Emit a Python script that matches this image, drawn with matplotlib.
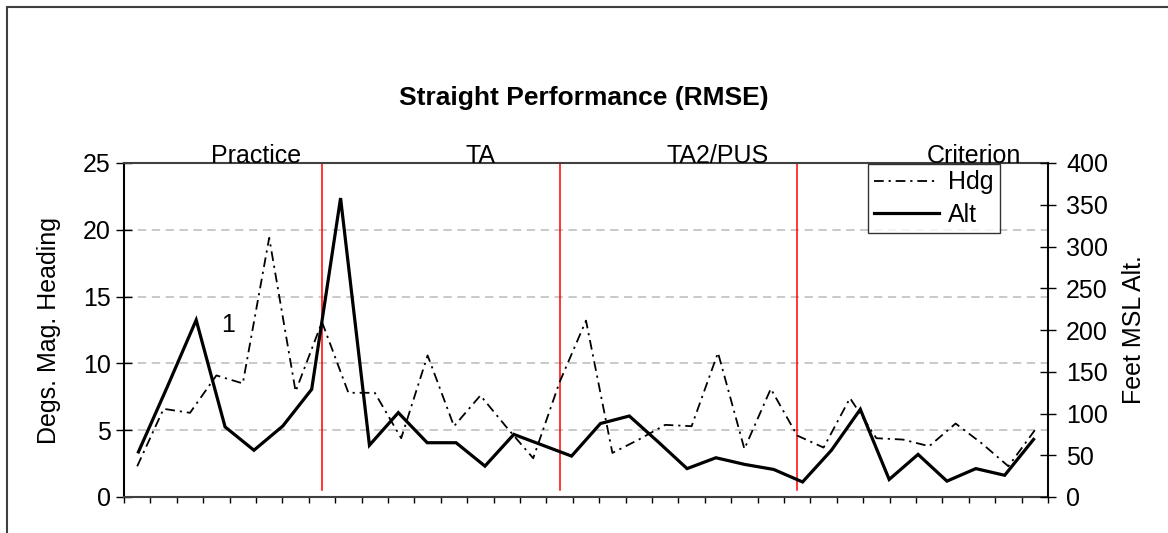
import matplotlib
matplotlib.use("Agg")
import matplotlib.pyplot as plt
from matplotlib.patches import Rectangle
import numpy as np

plt.rcParams['font.family'] = ['Liberation Sans', 'DejaVu Sans']
plt.rcParams['lines.scale_dashes'] = False

title = "Straight Performance (RMSE)"
phases = ["Practice", "TA", "TA2/PUS", "Criterion"]
phase_label_x = [5.0, 13.5, 22.5, 32.2]          # in Hdg category units
phase_bounds = [7.5, 16.5, 25.5]                 # in Hdg category units

hdg = [2.3, 6.6, 6.3, 9.1, 8.5, 19.4, 7.9, 13.1, 7.8, 7.8, 4.4, 10.6, 5.3, 7.6,
       5.2, 2.9, 8.6, 13.2, 3.3, 4.3, 5.4, 5.3, 10.8, 3.6, 8.1, 4.6, 3.7, 7.4,
       4.4, 4.3, 3.8, 5.5, 4.0, 2.3, 5.0]
alt = [54, 132, 212, 84, 56, 85, 129, 358, 62, 101, 65, 65, 37, 75, 62, 49,
       88, 97, 66, 34, 47, 39, 33, 18, 56, 105, 21, 51, 19, 34, 26, 69]

left_ticks = [0, 5, 10, 15, 20, 25]
right_ticks = [0, 50, 100, 150, 200, 250, 300, 350, 400]

W, H = 1168, 533
fig = plt.figure(figsize=(W / 100, H / 100), dpi=100)
pos = [124 / W, 1 - 497 / H, (1048 - 124) / W, (497 - 163) / H]
ax = fig.add_axes(pos)
ax2 = fig.add_axes(pos, facecolor='none')

FS = 18

# Hdg on primary axes
nh = len(hdg)
xh = np.arange(nh) + 0.5
ax.set_xlim(0, nh)
ax.set_ylim(0, 25)
ax.set_yticks(left_ticks)
ax.set_xticks(np.arange(nh + 1))
ax.set_xticklabels([])
for g in [5, 10, 15, 20]:
    ax.axhline(g, color='#c0c0c0', lw=1.2, dashes=(6, 4), zorder=0)
for b in phase_bounds:
    ax.axvline(b, ymin=0.02, ymax=1, color='red', lw=1.1, zorder=1)
lh, = ax.plot(xh, hdg, color='black', lw=1.3, dashes=(7.0, 3.5, 1.6, 3.5), zorder=2, label='Hdg')
ax.tick_params(axis='y', direction='inout', length=11, width=1, labelsize=FS, pad=4)
ax.tick_params(axis='x', direction='out', length=4.5, width=1)
for s in ax.spines.values():
    s.set_color('#404040')
    s.set_linewidth(1.5)
ax.spines['left'].set_color('black')
ax.set_ylabel("Degs. Mag. Heading", fontsize=FS)
ax.yaxis.set_label_coords(-0.068, 0.5)

# Alt on secondary axes
na = len(alt)
xa = np.arange(na) + 0.5
ax2.set_xlim(0, na)
ax2.set_ylim(0, 400)
ax2.set_yticks(right_ticks)
ax2.xaxis.set_visible(False)
ax2.yaxis.tick_right()
ax2.yaxis.set_label_position('right')
for s in ax2.spines.values():
    s.set_visible(False)
ax2.spines['right'].set_visible(True)
ax2.spines['right'].set_color('black')
ax2.spines['right'].set_linewidth(1.3)
la, = ax2.plot(xa, alt, color='black', lw=2.3, solid_joinstyle='miter', zorder=3, label='Alt')
ax2.tick_params(axis='y', direction='inout', length=12, width=1, labelsize=FS, pad=7)
ax2.set_ylabel("Feet MSL Alt.", fontsize=FS, rotation=90)
ax2.yaxis.set_label_coords(1.080, 0.5)

# Phase labels
for lbl, px in zip(phases, phase_label_x):
    ax.text(px, (497 - 156) / (497 - 163), lbl, transform=ax.get_xaxis_transform(),
            ha='center', va='center', fontsize=FS)
ax.text(3.94, 12.9, "1", ha='center', va='center', fontsize=FS)

fig.text(0.5, 1 - 98 / H, title, ha='center', va='center', fontsize=19, fontweight='bold')

leg = ax2.legend(handles=[lh, la], loc='upper left',
                 bbox_to_anchor=(868 / W, 1 - 164 / H), bbox_transform=fig.transFigure,
                 fontsize=FS, frameon=True, fancybox=False, edgecolor='black',
                 borderaxespad=0, borderpad=0.25, handlelength=2.6, handletextpad=0.35,
                 labelspacing=0.35)
leg.get_frame().set_linewidth(1.0)

fig.patches.append(Rectangle((7 / W, -0.1), 1.2, 1 - 7 / H + 0.1, transform=fig.transFigure,
                             fill=False, edgecolor='#404040', lw=1.5))

fig.savefig("out.png", dpi=100)
